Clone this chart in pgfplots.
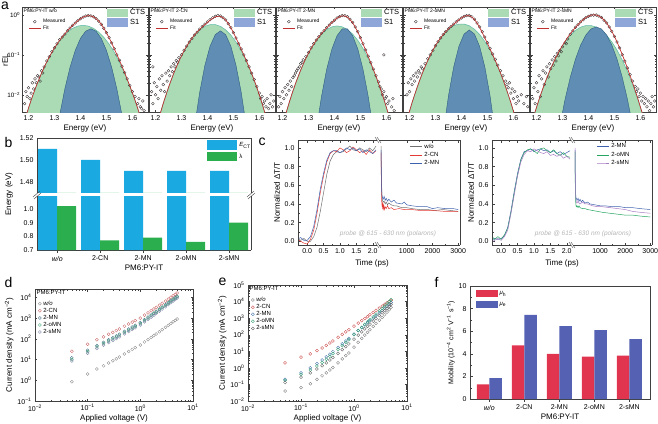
\documentclass[border=0pt]{standalone}
\usepackage{pgfplots}
\pgfplotsset{compat=1.18}
\usepackage{fontspec}
\setmainfont{Liberation Sans}
\definecolor{ctsfill}{HTML}{AADBB4}
\definecolor{ctsedge}{HTML}{5DBBA8}
\definecolor{sfill}{HTML}{5F8DB4}
\definecolor{sedge}{HTML}{2E5C80}
\definecolor{sleg}{HTML}{8FA6D8}
\definecolor{mgray}{HTML}{3C3434}
\definecolor{fitred}{HTML}{C0302E}
\definecolor{ectblue}{HTML}{1BA9E1}
\definecolor{lamgreen}{HTML}{2BAE4E}
\definecolor{cgray}{HTML}{707070}
\definecolor{cred}{HTML}{E53A33}
\definecolor{cblue}{HTML}{3F62AE}
\definecolor{cgreen}{HTML}{25A561}
\definecolor{cpurple}{HTML}{A77BC4}
\definecolor{probe}{HTML}{B5B5B5}
\definecolor{dgray}{HTML}{8A8A8A}
\definecolor{dred}{HTML}{C86464}
\definecolor{dteal}{HTML}{3A6A80}
\definecolor{dgreen}{HTML}{46A87A}
\definecolor{dpurple}{HTML}{8080A8}
\definecolor{egray}{HTML}{7A7A7A}
\definecolor{ered}{HTML}{CC4848}
\definecolor{eblue}{HTML}{4070A8}
\definecolor{egreen}{HTML}{30A070}
\definecolor{edark}{HTML}{5A5A5A}
\definecolor{mured}{HTML}{E0344F}
\definecolor{mublue}{HTML}{5562B4}
\pgfplotsset{
 every axis/.append style={scale only axis, clip mode=individual,
   tick align=inside, axis line style={black!75, line width=0.5pt}, tick style={black!75, line width=0.4pt},
   major tick length=2.5pt, minor tick length=1.5pt,
   tick label style={font=\fontsize{7}{8}\selectfont}, label style={font=\fontsize{8}{9}\selectfont},
   /pgf/number format/assume math mode=true, /pgf/number format/1000 sep={}},
 legpatcha/.style={legend image code/.code={\fill[##1, draw=none] (0pt,-4pt) rectangle (21pt,4.5pt);}},
 legpatchb/.style={legend image code/.code={\fill[##1, draw=none] (0pt,-4.5pt) rectangle (30pt,5pt);}},
 legpatchf/.style={legend image code/.code={\fill[##1, draw=none] (0pt,-3.5pt) rectangle (22pt,3.5pt);}},
 legline/.style={legend image code/.code={\draw[mark repeat=2,mark phase=2,##1] plot coordinates {(0pt,0pt) (6pt,0pt) (12pt,0pt)};}},
 measpts/.style={only marks, mark=o, mark size=1.4pt, draw=mgray, line width=0.35pt},
 fitline/.style={fitred, line width=0.7pt, smooth},
 ctsst/.style={fill=ctsfill, draw=ctsedge, line width=0.5pt, forget plot},
 s1st/.style={fill=sfill, draw=sedge, line width=0.4pt, forget plot},
}
\begin{document}
\begin{tikzpicture}
\useasboundingbox (0,0) rectangle (658pt,-423pt);
% ================= panel a =================
% --- a1 w/o
\begin{axis}[anchor=south west, at={(22pt,-112pt)}, width=126pt, height=105pt, ymode=log, xmin=1.175, xmax=1.66, ymin=0.0037, ymax=1.58,
  xtick={1.2,1.3,1.4,1.5,1.6}, xticklabels={1.2,1.3,1.4,1.5,1.6}, ytick={0.01,0.1,1}, xlabel={Energy (eV)}, xlabel style={yshift=3pt},
  yticklabels={10\textsuperscript{−2},10\textsuperscript{−1},10\textsuperscript{0}}, yticklabel style={xshift=1.5pt, font=\fontsize{6.3}{7}\selectfont},
  legend style={at={(0.995,0.995)}, anchor=north east, draw=none, fill=none, inner sep=0pt, font=\fontsize{7.5}{8}\selectfont, row sep=-1.2pt, legend cell align=left}, legpatcha]
\addplot[ctsst] coordinates {(1.17,0.0001) (1.19,0.00293) (1.21,0.00728) (1.23,0.01656) (1.25,0.03453) (1.27,0.06607) (1.29,0.1159) (1.31,0.1866) (1.33,0.2753) (1.35,0.3727) (1.37,0.4626) (1.39,0.5267) (1.41,0.55) (1.43,0.5267) (1.45,0.4626) (1.47,0.3727) (1.49,0.2753) (1.51,0.1866) (1.53,0.1159) (1.55,0.06607) (1.57,0.03453) (1.59,0.01656) (1.61,0.00728) (1.63,0.00293) (1.65,0.0001)} -- cycle;
\addplot[s1st] coordinates {(1.29,0.0001) (1.30,0.000508) (1.32,0.003074) (1.34,0.0141) (1.36,0.04908) (1.38,0.1294) (1.40,0.2586) (1.42,0.3918) (1.44,0.45) (1.46,0.3918) (1.48,0.2586) (1.50,0.1294) (1.52,0.04908) (1.54,0.0141) (1.56,0.003074) (1.58,0.000508) (1.59,0.0001)} -- cycle;
\addlegendimage{fill=ctsfill}\addlegendentry{CTS}
\addlegendimage{fill=sleg}\addlegendentry{S1}
\end{axis}
\begin{axis}[anchor=south west, at={(22pt,-112pt)}, width=126pt, height=105pt, ymode=log, xmin=1.175, xmax=1.66, ymin=0.0037, ymax=1.58, hide axis,
  legend style={at={(0.05,0.905)}, anchor=north west, draw=none, fill=none, inner sep=0pt, font=\fontsize{5}{5.5}\selectfont, row sep=-2.5pt, legend cell align=left}, legline]
\addplot[measpts] coordinates {(1.185,0.006) (1.19,0.012) (1.195,0.009) (1.20,0.015) (1.205,0.008) (1.21,0.011) (1.215,0.02) (1.22,0.014) (1.225,0.025) (1.23,0.02) (1.235,0.03) (1.24,0.028) (1.245,0.022) (1.25,0.04) (1.255,0.035) (1.26,0.05) (1.27,0.07) (1.28,0.09) (1.29,0.12) (1.30,0.15) (1.31,0.19) (1.32,0.24) (1.33,0.28) (1.34,0.33) (1.35,0.40) (1.36,0.47) (1.37,0.55) (1.38,0.63) (1.39,0.72) (1.40,0.80) (1.41,0.88) (1.42,0.94) (1.43,0.97) (1.44,0.95) (1.45,0.90) (1.46,0.81) (1.47,0.70) (1.48,0.58) (1.49,0.465) (1.50,0.36) (1.51,0.27) (1.52,0.20) (1.53,0.143) (1.54,0.10) (1.55,0.073) (1.56,0.052) (1.57,0.036) (1.58,0.025) (1.59,0.017) (1.60,0.012) (1.61,0.009) (1.62,0.006) (1.625,0.008) (1.63,0.005) (1.635,0.0045) (1.64,0.007) (1.645,0.004)};
\addplot[fitline] coordinates {(1.19,0.0029) (1.21,0.0073) (1.23,0.0166) (1.25,0.0345) (1.27,0.0661) (1.29,0.1159) (1.31,0.1879) (1.33,0.2821) (1.35,0.3999) (1.37,0.5451) (1.39,0.7161) (1.41,0.8795) (1.43,0.9614) (1.45,0.8973) (1.47,0.7022) (1.49,0.4647) (1.51,0.2691) (1.53,0.1431) (1.55,0.0729) (1.57,0.0358) (1.59,0.0166) (1.61,0.0073) (1.63,0.0029)};
\legend{Measured,Fit}
\node[anchor=north west, font=\fontsize{5}{6}\selectfont, inner sep=1.5pt] at (rel axis cs:0,1) {PM6:PY-IT w/o};
\end{axis}
\node[rotate=90, font=\fontsize{8}{9}\selectfont] at (5pt,-60pt) {rEL};
% --- a2 2-CN
\begin{axis}[anchor=south west, at={(149pt,-112pt)}, width=126pt, height=105pt, ymode=log, xmin=1.175, xmax=1.66, ymin=0.0037, ymax=1.58,
  xtick={1.2,1.3,1.4,1.5,1.6}, xticklabels={1.2,1.3,1.4,1.5,1.6}, ytick={0.01,0.1,1}, xlabel={Energy (eV)}, xlabel style={yshift=3pt}, yticklabels={,,},
  legend style={at={(0.995,0.995)}, anchor=north east, draw=none, fill=none, inner sep=0pt, font=\fontsize{7.5}{8}\selectfont, row sep=-1.2pt, legend cell align=left}, legpatcha]
\addplot[ctsst] coordinates {(1.17,0.0001) (1.19,0.00074) (1.21,0.00224) (1.23,0.00614) (1.25,0.0152) (1.27,0.0341) (1.29,0.0690) (1.31,0.1263) (1.33,0.2090) (1.35,0.3128) (1.37,0.4233) (1.39,0.5178) (1.41,0.5727) (1.43,0.5727) (1.45,0.5178) (1.47,0.4233) (1.49,0.3128) (1.51,0.2090) (1.53,0.1263) (1.55,0.0690) (1.57,0.0341) (1.59,0.0152) (1.61,0.00614) (1.63,0.00224) (1.65,0.00074) (1.67,0.0001)} -- cycle;
\addplot[s1st] coordinates {(1.32,0.00001) (1.33,0.00013) (1.35,0.00155) (1.37,0.0114) (1.39,0.0541) (1.41,0.1644) (1.43,0.3203) (1.45,0.40) (1.47,0.3203) (1.49,0.1644) (1.51,0.0541) (1.53,0.0114) (1.55,0.00155) (1.57,0.00013) (1.58,0.00001)} -- cycle;
\addlegendimage{fill=ctsfill}\addlegendentry{CTS}
\addlegendimage{fill=sleg}\addlegendentry{S1}
\end{axis}
\begin{axis}[anchor=south west, at={(149pt,-112pt)}, width=126pt, height=105pt, ymode=log, xmin=1.175, xmax=1.66, ymin=0.0037, ymax=1.58, hide axis,
  legend style={at={(0.05,0.905)}, anchor=north west, draw=none, fill=none, inner sep=0pt, font=\fontsize{5}{5.5}\selectfont, row sep=-2.5pt, legend cell align=left}, legline]
\addplot[measpts] coordinates {(1.185,0.012) (1.19,0.006) (1.19,0.05) (1.195,0.02) (1.20,0.01) (1.205,0.016) (1.21,0.008) (1.215,0.025) (1.22,0.013) (1.225,0.03) (1.23,0.018) (1.235,0.012) (1.24,0.035) (1.245,0.022) (1.25,0.04) (1.255,0.03) (1.26,0.05) (1.265,0.038) (1.27,0.06) (1.275,0.05) (1.28,0.072) (1.285,0.065) (1.29,0.085) (1.30,0.1) (1.31,0.13) (1.32,0.165) (1.33,0.21) (1.34,0.256) (1.35,0.314) (1.36,0.37) (1.37,0.44) (1.38,0.51) (1.39,0.59) (1.40,0.67) (1.41,0.76) (1.42,0.85) (1.43,0.93) (1.44,0.97) (1.45,0.94) (1.46,0.85) (1.47,0.75) (1.48,0.60) (1.49,0.48) (1.50,0.36) (1.51,0.265) (1.52,0.19) (1.53,0.14) (1.54,0.10) (1.55,0.072) (1.56,0.05) (1.57,0.035) (1.58,0.024) (1.59,0.016) (1.60,0.011) (1.605,0.008) (1.61,0.009) (1.615,0.006) (1.62,0.007) (1.625,0.005) (1.63,0.008) (1.635,0.0045) (1.64,0.006) (1.645,0.01) (1.65,0.005) (1.655,0.007)};
\addplot[fitline] coordinates {(1.21,0.0022) (1.23,0.0061) (1.25,0.0152) (1.27,0.0341) (1.29,0.0690) (1.31,0.1263) (1.33,0.2091) (1.35,0.3144) (1.37,0.4347) (1.39,0.5719) (1.41,0.7371) (1.43,0.8930) (1.45,0.9178) (1.47,0.7436) (1.49,0.4772) (1.51,0.2631) (1.53,0.1377) (1.55,0.0706) (1.57,0.0342) (1.59,0.0152) (1.61,0.0061) (1.63,0.0022)};
\legend{Measured,Fit}
\node[anchor=north west, font=\fontsize{5}{6}\selectfont, inner sep=1.5pt] at (rel axis cs:0,1) {PM6:PY-IT 2-CN};
\end{axis}
% --- a3 2-MN
\begin{axis}[anchor=south west, at={(276pt,-112pt)}, width=126pt, height=105pt, ymode=log, xmin=1.175, xmax=1.66, ymin=0.0037, ymax=1.58,
  xtick={1.2,1.3,1.4,1.5,1.6}, xticklabels={1.2,1.3,1.4,1.5,1.6}, ytick={0.01,0.1,1}, xlabel={Energy (eV)}, xlabel style={yshift=3pt}, yticklabels={,,},
  legend style={at={(0.995,0.995)}, anchor=north east, draw=none, fill=none, inner sep=0pt, font=\fontsize{7.5}{8}\selectfont, row sep=-1.2pt, legend cell align=left}, legpatcha]
\addplot[ctsst] coordinates {(1.17,0.0001) (1.19,0.00098) (1.21,0.00291) (1.23,0.00784) (1.25,0.0190) (1.27,0.0414) (1.29,0.0815) (1.31,0.1443) (1.33,0.2305) (1.35,0.3318) (1.37,0.4304) (1.39,0.5031) (1.41,0.53) (1.43,0.5031) (1.45,0.4304) (1.47,0.3318) (1.49,0.2305) (1.51,0.1443) (1.53,0.0815) (1.55,0.0414) (1.57,0.0190) (1.59,0.00784) (1.61,0.00291) (1.63,0.00098) (1.65,0.0001)} -- cycle;
\addplot[s1st] coordinates {(1.30,0.00001) (1.31,0.00012) (1.33,0.00128) (1.35,0.0090) (1.37,0.0430) (1.39,0.1387) (1.41,0.3029) (1.43,0.4476) (1.45,0.4476) (1.47,0.3029) (1.49,0.1387) (1.51,0.0430) (1.53,0.0090) (1.55,0.00128) (1.57,0.00012) (1.58,0.00001)} -- cycle;
\addlegendimage{fill=ctsfill}\addlegendentry{CTS}
\addlegendimage{fill=sleg}\addlegendentry{S1}
\end{axis}
\begin{axis}[anchor=south west, at={(276pt,-112pt)}, width=126pt, height=105pt, ymode=log, xmin=1.175, xmax=1.66, ymin=0.0037, ymax=1.58, hide axis,
  legend style={at={(0.05,0.905)}, anchor=north west, draw=none, fill=none, inner sep=0pt, font=\fontsize{5}{5.5}\selectfont, row sep=-2.5pt, legend cell align=left}, legline]
\addplot[measpts] coordinates {(1.185,0.005) (1.19,0.009) (1.195,0.006) (1.20,0.012) (1.205,0.008) (1.21,0.015) (1.215,0.01) (1.22,0.018) (1.225,0.013) (1.23,0.022) (1.235,0.016) (1.24,0.027) (1.245,0.03) (1.25,0.035) (1.255,0.04) (1.26,0.045) (1.265,0.05) (1.27,0.06) (1.275,0.065) (1.28,0.075) (1.29,0.09) (1.30,0.115) (1.31,0.15) (1.32,0.19) (1.33,0.235) (1.34,0.285) (1.35,0.345) (1.36,0.405) (1.37,0.48) (1.38,0.56) (1.39,0.65) (1.40,0.74) (1.41,0.84) (1.42,0.91) (1.43,0.97) (1.44,0.96) (1.45,0.90) (1.46,0.78) (1.47,0.65) (1.48,0.50) (1.49,0.38) (1.50,0.27) (1.51,0.19) (1.52,0.133) (1.53,0.092) (1.54,0.064) (1.55,0.044) (1.56,0.03) (1.57,0.021) (1.575,0.016) (1.58,0.014) (1.585,0.01) (1.59,0.012) (1.595,0.008) (1.60,0.009) (1.605,0.006) (1.61,0.007) (1.62,0.005) (1.625,0.008) (1.63,0.004) (1.59,0.1)};
\addplot[fitline] coordinates {(1.21,0.0029) (1.23,0.0078) (1.25,0.0190) (1.27,0.0414) (1.29,0.0815) (1.31,0.1444) (1.33,0.2318) (1.35,0.3408) (1.37,0.4734) (1.39,0.6418) (1.41,0.8329) (1.43,0.9507) (1.45,0.8780) (1.47,0.6347) (1.49,0.3692) (1.51,0.1873) (1.53,0.0905) (1.55,0.0427) (1.57,0.0191) (1.59,0.0078) (1.61,0.0029)};
\legend{Measured,Fit}
\node[anchor=north west, font=\fontsize{5}{6}\selectfont, inner sep=1.5pt] at (rel axis cs:0,1) {PM6:PY-IT 2-MN};
\end{axis}
% --- a4 2-oMN
\begin{axis}[anchor=south west, at={(403pt,-112pt)}, width=126pt, height=105pt, ymode=log, xmin=1.175, xmax=1.66, ymin=0.0037, ymax=1.58,
  xtick={1.2,1.3,1.4,1.5,1.6}, xticklabels={1.2,1.3,1.4,1.5,1.6}, ytick={0.01,0.1,1}, xlabel={Energy (eV)}, xlabel style={yshift=3pt}, yticklabels={,,},
  legend style={at={(0.995,0.995)}, anchor=north east, draw=none, fill=none, inner sep=0pt, font=\fontsize{7.5}{8}\selectfont, row sep=-1.2pt, legend cell align=left}, legpatcha]
\addplot[ctsst] coordinates {(1.15,0.0001) (1.17,0.00077) (1.19,0.00232) (1.21,0.00635) (1.23,0.01574) (1.25,0.0353) (1.27,0.0714) (1.29,0.1307) (1.31,0.2162) (1.33,0.3236) (1.35,0.4379) (1.37,0.5357) (1.39,0.5925) (1.41,0.5925) (1.43,0.5357) (1.45,0.4379) (1.47,0.3236) (1.49,0.2162) (1.51,0.1307) (1.53,0.0714) (1.55,0.0353) (1.57,0.0157) (1.59,0.00635) (1.61,0.00232) (1.63,0.00077) (1.65,0.0001)} -- cycle;
\addplot[s1st] coordinates {(1.30,0.00001) (1.31,0.00008) (1.33,0.0011) (1.35,0.0094) (1.37,0.0494) (1.39,0.1622) (1.41,0.3311) (1.43,0.42) (1.45,0.3311) (1.47,0.1622) (1.49,0.0494) (1.51,0.0094) (1.53,0.0011) (1.55,0.00008) (1.56,0.00001)} -- cycle;
\addlegendimage{fill=ctsfill}\addlegendentry{CTS}
\addlegendimage{fill=sleg}\addlegendentry{S1}
\end{axis}
\begin{axis}[anchor=south west, at={(403pt,-112pt)}, width=126pt, height=105pt, ymode=log, xmin=1.175, xmax=1.66, ymin=0.0037, ymax=1.58, hide axis,
  legend style={at={(0.05,0.905)}, anchor=north west, draw=none, fill=none, inner sep=0pt, font=\fontsize{5}{5.5}\selectfont, row sep=-2.5pt, legend cell align=left}, legline]
\addplot[measpts] coordinates {(1.19,0.01) (1.195,0.02) (1.20,0.012) (1.205,0.025) (1.21,0.018) (1.215,0.03) (1.22,0.022) (1.225,0.035) (1.23,0.028) (1.235,0.04) (1.24,0.035) (1.245,0.05) (1.25,0.045) (1.26,0.06) (1.27,0.08) (1.28,0.1) (1.29,0.13) (1.30,0.17) (1.31,0.215) (1.32,0.265) (1.33,0.325) (1.34,0.385) (1.35,0.45) (1.36,0.515) (1.37,0.59) (1.38,0.67) (1.39,0.755) (1.40,0.84) (1.41,0.92) (1.42,0.96) (1.43,0.97) (1.44,0.90) (1.45,0.78) (1.46,0.63) (1.47,0.50) (1.48,0.38) (1.49,0.28) (1.50,0.20) (1.51,0.145) (1.52,0.105) (1.53,0.077) (1.54,0.055) (1.55,0.04) (1.56,0.03) (1.57,0.022) (1.575,0.018) (1.58,0.015) (1.585,0.02) (1.59,0.011) (1.595,0.014) (1.60,0.008) (1.605,0.012) (1.61,0.006) (1.615,0.009) (1.62,0.007) (1.63,0.01) (1.64,0.006) (1.65,0.009) (1.655,0.005)};
\addplot[fitline] coordinates {(1.19,0.0023) (1.21,0.0064) (1.23,0.0157) (1.25,0.0353) (1.27,0.0714) (1.29,0.1307) (1.31,0.2163) (1.33,0.3247) (1.35,0.4473) (1.37,0.5851) (1.39,0.7547) (1.41,0.9236) (1.43,0.9557) (1.45,0.7690) (1.47,0.4858) (1.49,0.2656) (1.51,0.1401) (1.53,0.0725) (1.55,0.0354) (1.57,0.0157) (1.59,0.0064) (1.61,0.0023)};
\legend{Measured,Fit}
\node[anchor=north west, font=\fontsize{5}{6}\selectfont, inner sep=1.5pt] at (rel axis cs:0,1) {PM6:PY-IT 2-oMN};
\end{axis}
% --- a5 2-sMN
\begin{axis}[anchor=south west, at={(530pt,-112pt)}, width=126pt, height=105pt, ymode=log, xmin=1.175, xmax=1.66, ymin=0.0037, ymax=1.58,
  xtick={1.2,1.3,1.4,1.5,1.6}, xticklabels={1.2,1.3,1.4,1.5,1.6}, ytick={0.01,0.1,1}, xlabel={Energy (eV)}, xlabel style={yshift=3pt}, yticklabels={,,},
  legend style={at={(0.995,0.995)}, anchor=north east, draw=none, fill=none, inner sep=0pt, font=\fontsize{7.5}{8}\selectfont, row sep=-1.2pt, legend cell align=left}, legpatcha]
\addplot[ctsst] coordinates {(1.15,0.0001) (1.17,0.00105) (1.19,0.00298) (1.21,0.00767) (1.23,0.0180) (1.25,0.0384) (1.27,0.0744) (1.29,0.1314) (1.31,0.2109) (1.33,0.3080) (1.35,0.4091) (1.37,0.4945) (1.39,0.5435) (1.41,0.5435) (1.43,0.4945) (1.45,0.4091) (1.47,0.3080) (1.49,0.2109) (1.51,0.1314) (1.53,0.0744) (1.55,0.0384) (1.57,0.0180) (1.59,0.00767) (1.61,0.00298) (1.63,0.00105) (1.65,0.0001)} -- cycle;
\addplot[s1st] coordinates {(1.26,0.00003) (1.27,0.0003) (1.29,0.0017) (1.31,0.0077) (1.33,0.0274) (1.35,0.0780) (1.37,0.1758) (1.39,0.3143) (1.41,0.4452) (1.43,0.5) (1.45,0.4452) (1.47,0.3143) (1.49,0.1758) (1.51,0.0780) (1.53,0.0274) (1.55,0.0077) (1.57,0.0017) (1.59,0.0003) (1.60,0.00003)} -- cycle;
\addlegendimage{fill=ctsfill}\addlegendentry{CTS}
\addlegendimage{fill=sleg}\addlegendentry{S1}
\end{axis}
\begin{axis}[anchor=south west, at={(530pt,-112pt)}, width=126pt, height=105pt, ymode=log, xmin=1.175, xmax=1.66, ymin=0.0037, ymax=1.58, hide axis,
  legend style={at={(0.05,0.905)}, anchor=north west, draw=none, fill=none, inner sep=0pt, font=\fontsize{5}{5.5}\selectfont, row sep=-2.5pt, legend cell align=left}, legline]
\addplot[measpts] coordinates {(1.185,0.008) (1.19,0.015) (1.195,0.006) (1.20,0.02) (1.205,0.012) (1.21,0.03) (1.215,0.009) (1.22,0.025) (1.225,0.04) (1.23,0.018) (1.235,0.035) (1.24,0.05) (1.245,0.028) (1.25,0.06) (1.255,0.045) (1.26,0.075) (1.265,0.055) (1.27,0.09) (1.275,0.07) (1.28,0.11) (1.285,0.095) (1.29,0.13) (1.295,0.12) (1.30,0.16) (1.31,0.2) (1.315,0.19) (1.32,0.25) (1.33,0.33) (1.34,0.40) (1.35,0.49) (1.36,0.57) (1.37,0.67) (1.38,0.76) (1.39,0.86) (1.40,0.92) (1.41,0.98) (1.42,0.99) (1.43,0.99) (1.44,0.93) (1.45,0.86) (1.46,0.73) (1.47,0.63) (1.48,0.50) (1.49,0.39) (1.50,0.29) (1.51,0.21) (1.52,0.15) (1.53,0.10) (1.54,0.07) (1.55,0.047) (1.56,0.032) (1.57,0.022) (1.58,0.016) (1.585,0.012) (1.59,0.014) (1.595,0.009) (1.60,0.011) (1.605,0.007) (1.61,0.009) (1.615,0.006) (1.62,0.008) (1.625,0.005) (1.63,0.007) (1.635,0.004) (1.64,0.006) (1.645,0.009) (1.65,0.005) (1.655,0.007)};
\addplot[fitline] coordinates {(1.19,0.0030) (1.21,0.0077) (1.23,0.0180) (1.25,0.0384) (1.27,0.0747) (1.29,0.1331) (1.31,0.2186) (1.33,0.3354) (1.35,0.4871) (1.37,0.6703) (1.39,0.8578) (1.41,0.9887) (1.43,0.9945) (1.45,0.8543) (1.47,0.6223) (1.49,0.3867) (1.51,0.2094) (1.53,0.1018) (1.55,0.0461) (1.57,0.0197) (1.59,0.0080) (1.61,0.0030)};
\legend{Measured,Fit}
\node[anchor=north west, font=\fontsize{5}{6}\selectfont, inner sep=1.5pt] at (rel axis cs:0,1) {PM6:PY-IT 2-sMN};
\end{axis}
% ================= panel b =================
\begin{axis}[anchor=south west, at={(37pt,-193pt)}, width=214pt, height=55pt, ybar=0pt, bar width=19pt,
  xmin=-0.47, xmax=4.51, ymin=1.47, ymax=1.52, ytick={1.48,1.50,1.52},
  yticklabel style={/pgf/number format/.cd, fixed, fixed zerofill, precision=2},
  xtick=\empty, axis x line*=top, axis y line*=box, ytick pos=left, minor y tick num=1,
  legend style={at={(0.795,0.96)}, anchor=north west, draw=none, fill=none, inner sep=0pt, font=\fontsize{6}{7}\selectfont, row sep=1.5pt, legend cell align=left}, legpatchb]
\addplot[fill=ectblue, draw=none] coordinates {(0,1.51) (1,1.50) (2,1.49) (3,1.49) (4,1.49)};
\addplot[fill=lamgreen, draw=none] coordinates {(0,1.02) (1,0.77) (2,0.79) (3,0.76) (4,0.90)};
\legend{\textit{E}\textsubscript{CT},λ}
\end{axis}
\begin{axis}[anchor=south west, at={(37pt,-250pt)}, width=214pt, height=54pt, ybar=0pt, bar width=19pt,
  xmin=-0.47, xmax=4.51, ymin=0.7, ymax=1.094, ytick={0.7,0.8,0.9,1.0},
  yticklabel style={/pgf/number format/.cd, fixed, fixed zerofill, precision=1},
  xtick={0,1,2,3,4}, xticklabels={\textit{w/o},2-CN,2-MN,2-oMN,2-sMN},
  axis x line*=bottom, axis y line*=box, ytick pos=left, minor y tick num=1,
  xlabel={PM6:PY-IT}, xlabel style={yshift=3pt}]
\addplot[fill=ectblue, draw=none] coordinates {(0,1.51) (1,1.50) (2,1.49) (3,1.49) (4,1.49)};
\addplot[fill=lamgreen, draw=none] coordinates {(0,1.02) (1,0.77) (2,0.79) (3,0.76) (4,0.90)};
\end{axis}
\node[rotate=90, font=\fontsize{8}{9}\selectfont] at (9pt,-194pt) {Energy (eV)};
\draw[black!75, line width=0.4pt] (33pt,-197pt) -- (40pt,-191pt) (34pt,-199pt) -- (41pt,-193pt);
\draw[black!75, line width=0.4pt] (247pt,-197pt) -- (254pt,-191pt) (248pt,-199pt) -- (255pt,-193pt);
% ================= panel c =================
\begin{axis}[anchor=south west, at={(298pt,-245pt)}, width=79pt, height=105pt, xmin=-0.28, xmax=2.13, ymin=-0.04, ymax=1.085,
  xtick={0,0.5,1,1.5,2}, xticklabels={0.0,0.5,1.0,1.5,2.0}, ytick={0,0.2,0.4,0.6,0.8,1.0},
  yticklabel style={/pgf/number format/.cd, fixed, fixed zerofill, precision=1},
  axis y line*=left, axis x line*=box, minor x tick num=1, minor y tick num=1,
  ylabel={Normalized ΔT/T}, ylabel style={yshift=-2pt}]
\addplot[cgray, line width=0.5pt] coordinates {(-0.25,0.02) (-0.2,0.01) (-0.1,0.03) (0.0,0.0) (0.1,0.0) (0.2,0.05) (0.3,0.15) (0.4,0.32) (0.5,0.52) (0.6,0.72) (0.7,0.86) (0.8,0.93) (0.9,0.96) (1.0,0.95) (1.1,0.96) (1.2,0.99) (1.3,1.02) (1.4,0.98) (1.5,0.97) (1.6,1.0) (1.7,0.98) (1.8,0.96) (1.9,1.0) (2.0,0.97) (2.1,1.02)};
\addplot[cred, line width=0.5pt] coordinates {(-0.25,0.01) (-0.2,0.0) (-0.1,-0.02) (0.0,-0.03) (0.1,0.02) (0.2,0.12) (0.3,0.3) (0.4,0.52) (0.5,0.7) (0.6,0.85) (0.7,0.94) (0.8,0.97) (0.9,0.96) (1.0,1.0) (1.1,0.98) (1.2,0.95) (1.3,0.97) (1.4,1.01) (1.5,0.98) (1.6,0.95) (1.7,0.97) (1.8,0.93) (1.9,0.98) (2.0,0.94) (2.1,0.97)};
\addplot[cblue, line width=0.5pt] coordinates {(-0.25,0.03) (-0.2,0.04) (-0.1,0.01) (0.0,0.01) (0.1,0.05) (0.2,0.16) (0.3,0.34) (0.4,0.56) (0.5,0.73) (0.6,0.87) (0.7,0.95) (0.8,0.97) (0.9,0.97) (1.0,0.95) (1.1,0.97) (1.2,1.0) (1.3,0.98) (1.4,1.0) (1.5,0.97) (1.6,0.99) (1.7,0.95) (1.8,0.98) (1.9,0.96) (2.0,0.94) (2.1,0.98)};
\end{axis}
\begin{axis}[anchor=south west, at={(379pt,-245pt)}, width=81pt, height=105pt, xmin=-80, xmax=3070, ymin=-0.04, ymax=1.085,
  xtick={1000,2000,3000}, scaled x ticks=false, ytick=\empty, axis y line*=right, axis x line*=box, minor x tick num=1,
  legend style={at={(0.38,0.985)}, anchor=north west, draw=none, fill=none, inner sep=0pt, font=\fontsize{6}{7}\selectfont, row sep=-1.5pt, legend cell align=left}, legline]
\addplot[cgray, line width=0.5pt] coordinates {(0,1.02) (10,0.8) (20,0.62) (35,0.5) (50,0.44) (80,0.42) (120,0.43) (160,0.40) (200,0.42) (250,0.39) (300,0.41) (400,0.39) (500,0.38) (600,0.38) (800,0.36) (1000,0.36) (1200,0.35) (1500,0.34) (1800,0.34) (2100,0.33) (2400,0.34) (2700,0.33) (3000,0.32)};
\addplot[cred, line width=0.5pt] coordinates {(0,0.95) (10,0.62) (20,0.45) (35,0.39) (50,0.36) (70,0.42) (90,0.35) (110,0.38) (130,0.34) (160,0.37) (200,0.35) (250,0.38) (300,0.35) (400,0.36) (500,0.34) (700,0.35) (900,0.34) (1200,0.34) (1500,0.33) (2000,0.33) (2500,0.32) (3000,0.32)};
\addplot[cblue, line width=0.5pt] coordinates {(0,0.98) (10,0.72) (20,0.56) (35,0.49) (50,0.47) (80,0.45) (120,0.48) (160,0.44) (200,0.46) (250,0.43) (300,0.45) (400,0.42) (500,0.44) (600,0.41) (800,0.40) (900,0.42) (1000,0.39) (1200,0.38) (1500,0.37) (1800,0.37) (2000,0.35) (2200,0.36) (2500,0.35) (2800,0.35) (3000,0.34)};
\legend{w/o,2-CN,2-MN}
\end{axis}
\node[font=\itshape\fontsize{6.5}{7}\selectfont, text=probe] at (388pt,-234pt) {probe @ 615 - 630 nm (polarons)};
\node[font=\fontsize{8}{9}\selectfont] at (372pt,-263pt) {Time (ps)};
\begin{axis}[anchor=south west, at={(492pt,-245pt)}, width=79pt, height=105pt, xmin=-0.28, xmax=2.13, ymin=-0.04, ymax=1.085,
  xtick={0,0.5,1,1.5,2}, xticklabels={0.0,0.5,1.0,1.5,2.0}, ytick={0,0.2,0.4,0.6,0.8,1.0},
  yticklabel style={/pgf/number format/.cd, fixed, fixed zerofill, precision=1},
  axis y line*=left, axis x line*=box, minor x tick num=1, minor y tick num=1,
  ylabel={Normalized ΔT/T}, ylabel style={yshift=-2pt}]
\addplot[cblue, line width=0.5pt] coordinates {(-0.25,0.02) (-0.2,0.03) (-0.1,0.02) (0.0,0.03) (0.1,0.06) (0.2,0.15) (0.3,0.33) (0.4,0.54) (0.5,0.73) (0.6,0.88) (0.7,0.96) (0.8,0.97) (0.9,0.99) (1.0,0.96) (1.1,0.98) (1.2,0.99) (1.3,0.97) (1.4,0.98) (1.5,0.95) (1.6,0.97) (1.7,0.94) (1.8,0.96) (1.9,0.93) (2.0,0.95) (2.1,0.97)};
\addplot[cgreen, line width=0.5pt] coordinates {(-0.25,0.04) (-0.2,0.02) (-0.1,0.05) (0.0,0.02) (0.1,0.07) (0.2,0.14) (0.3,0.31) (0.4,0.52) (0.5,0.71) (0.6,0.87) (0.7,0.95) (0.8,0.98) (0.9,0.99) (1.0,0.97) (1.1,0.94) (1.2,0.99) (1.3,1.0) (1.4,0.97) (1.5,0.95) (1.6,0.98) (1.7,0.94) (1.8,0.92) (1.9,0.95) (2.0,0.91) (2.1,0.90)};
\addplot[cpurple, line width=0.5pt] coordinates {(-0.25,0.0) (-0.2,0.01) (-0.1,0.03) (0.0,0.01) (0.1,0.05) (0.2,0.12) (0.3,0.3) (0.4,0.5) (0.5,0.7) (0.6,0.85) (0.7,0.93) (0.8,0.97) (0.9,0.96) (1.0,0.99) (1.1,0.97) (1.2,0.95) (1.3,0.94) (1.4,0.96) (1.5,0.92) (1.6,0.93) (1.7,0.91) (1.8,0.93) (1.9,0.89) (2.0,0.91) (2.1,0.88)};
\end{axis}
\begin{axis}[anchor=south west, at={(573pt,-245pt)}, width=79pt, height=105pt, xmin=-80, xmax=3070, ymin=-0.04, ymax=1.085,
  xtick={1000,2000,3000}, scaled x ticks=false, ytick=\empty, axis y line*=right, axis x line*=box, minor x tick num=1,
  legend style={at={(0.30,0.985)}, anchor=north west, draw=none, fill=none, inner sep=0pt, font=\fontsize{6}{7}\selectfont, row sep=-1.5pt, legend cell align=left}, legline]
\addplot[cblue, line width=0.5pt] coordinates {(0,0.98) (10,0.7) (20,0.54) (35,0.47) (50,0.46) (80,0.44) (120,0.46) (160,0.43) (200,0.45) (250,0.42) (300,0.44) (400,0.41) (500,0.42) (600,0.40) (800,0.39) (1000,0.38) (1200,0.38) (1500,0.37) (1800,0.37) (2000,0.36) (2300,0.36) (2600,0.35) (3000,0.34)};
\addplot[cgreen, line width=0.5pt] coordinates {(0,0.96) (10,0.6) (20,0.45) (35,0.39) (50,0.37) (80,0.38) (120,0.36) (160,0.38) (200,0.36) (300,0.35) (400,0.35) (500,0.34) (700,0.33) (900,0.32) (1100,0.31) (1400,0.30) (1700,0.29) (2000,0.28) (2300,0.28) (2600,0.27) (3000,0.26)};
\addplot[cpurple, line width=0.5pt] coordinates {(0,1.0) (10,0.72) (20,0.52) (35,0.45) (50,0.42) (80,0.41) (120,0.43) (160,0.41) (200,0.40) (300,0.42) (400,0.40) (500,0.40) (700,0.38) (900,0.37) (1100,0.37) (1400,0.36) (1700,0.35) (2000,0.34) (2300,0.32) (2600,0.31) (3000,0.30)};
\legend{2-MN,2-oMN,2-sMN}
\end{axis}
\node[font=\itshape\fontsize{6.5}{7}\selectfont, text=probe] at (583pt,-234pt) {probe @ 615 - 630 nm (polarons)};
\node[font=\fontsize{8}{9}\selectfont] at (562pt,-263pt) {Time (ps)};
\foreach \bx in {378,572}{
 \draw[black!75, line width=0.4pt] (\bx pt-3pt,-137pt) -- (\bx pt+1pt,-143pt) (\bx pt-1pt,-137pt) -- (\bx pt+3pt,-143pt);
 \draw[black!75, line width=0.4pt] (\bx pt-3pt,-242pt) -- (\bx pt+1pt,-248pt) (\bx pt-1pt,-242pt) -- (\bx pt+3pt,-248pt);
}
% ================= panel d =================
\begin{axis}[anchor=south west, at={(35pt,-401pt)}, width=158pt, height=112pt, xmode=log, ymode=log, xmin=0.01, xmax=10, ymin=0.1, ymax=25119,
  xtick={0.01,0.1,1,10}, xticklabels={10\textsuperscript{−2},10\textsuperscript{−1},10\textsuperscript{0},10\textsuperscript{1}},
  ytick={0.1,1,10,100,1000,10000}, yticklabels={10\textsuperscript{−1},10\textsuperscript{0},10\textsuperscript{1},10\textsuperscript{2},10\textsuperscript{3},10\textsuperscript{4}},
  xlabel={Applied voltage (V)}, ylabel={Current density (mA cm\textsuperscript{−2})}, xlabel style={yshift=3pt}, ylabel style={yshift=-3pt},
  legend style={at={(0.02,0.915)}, anchor=north west, draw=none, fill=none, inner sep=0pt, font=\fontsize{6}{7}\selectfont, row sep=-2.6pt, legend cell align=left},
  every axis plot/.append style={only marks, mark=o, mark size=1.5pt, line width=0.35pt}]
\addplot[dgray] coordinates {(0.05,0.85) (0.1,2.0) (0.15,3.5) (0.2,5.0) (0.25,6.8) (0.3,8.7) (0.35,10.8) (0.4,13.2) (0.5,18.5) (0.6,24.4) (0.7,30.7) (0.8,37.1) (1.0,50) (1.2,70) (1.4,92) (1.6,116) (1.8,142) (2.0,171) (2.3,220) (2.6,275) (3.0,355) (3.4,445) (3.8,550) (4.2,660) (4.6,780) (5.0,900)};
\addplot[dred] coordinates {(0.05,25) (0.1,55) (0.15,90) (0.2,124) (0.25,164) (0.3,204) (0.35,249) (0.4,299) (0.5,403) (0.6,518) (0.7,638) (0.8,757) (1.0,995) (1.2,1370) (1.4,1790) (1.6,2240) (1.8,2730) (2.0,3280) (2.3,4180) (2.6,5170) (3.0,6560) (3.4,8150) (3.8,9940) (4.2,11830) (4.6,13820) (5.0,16000)};
\addplot[dteal] coordinates {(0.05,12) (0.1,28) (0.15,47) (0.2,67) (0.25,89) (0.3,112) (0.35,137) (0.4,166) (0.5,228) (0.6,296) (0.7,370) (0.8,444) (1.0,600) (1.2,840) (1.4,1110) (1.6,1410) (1.8,1740) (2.0,2110) (2.3,2720) (2.6,3410) (3.0,4400) (3.4,5540) (3.8,6840) (4.2,8230) (4.6,9720) (5.0,11300)};
\addplot[dgreen] coordinates {(0.05,10) (0.1,24) (0.15,41) (0.2,58) (0.25,78) (0.3,98) (0.35,121) (0.4,146) (0.5,201) (0.6,262) (0.7,328) (0.8,395) (1.0,535) (1.2,755) (1.4,1000) (1.6,1275) (1.8,1580) (2.0,1920) (2.3,2480) (2.6,3120) (3.0,4030) (3.4,5090) (3.8,6300) (4.2,7600) (4.6,9000) (5.0,10500)};
\addplot[dpurple] coordinates {(0.05,8.5) (0.1,20) (0.15,34) (0.2,49) (0.25,66) (0.3,83) (0.35,103) (0.4,125) (0.5,172) (0.6,225) (0.7,282) (0.8,340) (1.0,460) (1.2,650) (1.4,865) (1.6,1100) (1.8,1365) (2.0,1660) (2.3,2150) (2.6,2710) (3.0,3500) (3.4,4430) (3.8,5480) (4.2,6620) (4.6,7840) (5.0,9200)};
\legend{\textit{w/o},2-CN,2-MN,2-oMN,2-sMN}
\node[anchor=north west, font=\fontsize{6}{7}\selectfont, inner sep=1.5pt] at (rel axis cs:0,1) {PM6:PY-IT};
\end{axis}
% ================= panel e =================
\begin{axis}[anchor=south west, at={(248pt,-401pt)}, width=159pt, height=116pt, xmode=log, ymode=log, xmin=0.01, xmax=10, ymin=0.01, ymax=100000,
  xtick={0.01,0.1,1,10}, xticklabels={10\textsuperscript{−2},10\textsuperscript{−1},10\textsuperscript{0},10\textsuperscript{1}},
  ytick={0.01,0.1,1,10,100,1000,10000,100000}, yticklabels={10\textsuperscript{−2},10\textsuperscript{−1},10\textsuperscript{0},10\textsuperscript{1},10\textsuperscript{2},10\textsuperscript{3},10\textsuperscript{4},10\textsuperscript{5}},
  xlabel={Applied voltage (V)}, ylabel={Current density (mA cm\textsuperscript{−2})}, xlabel style={yshift=3pt}, ylabel style={yshift=-3pt},
  legend style={at={(0.02,0.915)}, anchor=north west, draw=none, fill=none, inner sep=0pt, font=\fontsize{6}{7}\selectfont, row sep=-2.6pt, legend cell align=left},
  every axis plot/.append style={only marks, mark=o, mark size=1.5pt, line width=0.35pt}]
\addplot[egray] coordinates {(0.05,0.04) (0.1,0.065) (0.15,0.11) (0.2,0.2) (0.25,0.33) (0.3,0.5) (0.35,0.75) (0.4,1.05) (0.5,2.0) (0.6,3.5) (0.7,5.5) (0.8,8) (1.0,18) (1.2,35) (1.4,60) (1.6,95) (1.8,140) (2.0,200) (2.3,320) (2.6,480) (3.0,750) (3.4,1100) (3.8,1600) (4.2,2300) (4.6,3200) (5.0,4500)};
\addplot[ered] coordinates {(0.05,2) (0.1,4.5) (0.15,7) (0.2,11) (0.25,16) (0.3,23) (0.35,32) (0.4,42) (0.5,70) (0.6,105) (0.7,150) (0.8,200) (1.0,330) (1.2,500) (1.4,700) (1.6,950) (1.8,1250) (2.0,1600) (2.3,2200) (2.6,2900) (3.0,4000) (3.4,5300) (3.8,6800) (4.2,8400) (4.6,10200) (5.0,12000)};
\addplot[eblue] coordinates {(0.05,0.2) (0.1,0.5) (0.15,1.0) (0.2,1.8) (0.25,3) (0.3,4.6) (0.35,6.7) (0.4,9.5) (0.5,17) (0.6,28) (0.7,42) (0.8,60) (1.0,110) (1.2,180) (1.4,270) (1.6,390) (1.8,530) (2.0,700) (2.3,1000) (2.6,1400) (3.0,2100) (3.4,2900) (3.8,4000) (4.2,5300) (4.6,6900) (5.0,8800)};
\addplot[egreen] coordinates {(0.05,0.18) (0.1,0.4) (0.15,0.75) (0.2,1.3) (0.25,2.1) (0.3,3.3) (0.35,5) (0.4,7.2) (0.5,13) (0.6,22) (0.7,34) (0.8,50) (1.0,100) (1.2,175) (1.4,280) (1.6,420) (1.8,600) (2.0,820) (2.3,1200) (2.6,1750) (3.0,2700) (3.4,3900) (3.8,5400) (4.2,7300) (4.6,9800) (5.0,13000)};
\addplot[edark] coordinates {(0.05,0.13) (0.1,0.28) (0.15,0.5) (0.2,0.85) (0.25,1.35) (0.3,2.0) (0.35,3.0) (0.4,4.2) (0.5,7.5) (0.6,12.5) (0.7,19) (0.8,28) (1.0,55) (1.2,95) (1.4,150) (1.6,225) (1.8,320) (2.0,440) (2.3,660) (2.6,950) (3.0,1450) (3.4,2100) (3.8,2900) (4.2,3900) (4.6,5200) (5.0,6800)};
\legend{\textit{w/o},2-CN,2-MN,2-oMN,2-sMN}
\node[anchor=north west, font=\fontsize{6}{7}\selectfont, inner sep=1.5pt] at (rel axis cs:0,1) {PM6:PY-IT};
\end{axis}
% ================= panel f =================
\begin{axis}[anchor=south west, at={(470pt,-399pt)}, width=180pt, height=113pt, ybar=0pt, bar width=12.5pt,
  xmin=-0.55, xmax=4.59, ymin=0, ymax=10, ytick={0,2,4,6,8,10}, minor y tick num=1,
  xtick={0,1,2,3,4}, xticklabels={\textit{w/o},2-CN,2-MN,2-oMN,2-sMN}, ytick pos=left, xtick pos=bottom,
  xlabel={PM6:PY-IT}, xlabel style={yshift=3pt},
  ylabel={Mobility (10\textsuperscript{−4} cm\textsuperscript{2} V\textsuperscript{−1} s\textsuperscript{−1})}, ylabel style={yshift=-3pt, font=\fontsize{7}{8}\selectfont},
  legend style={at={(0.03,0.97)}, anchor=north west, draw=none, fill=none, inner sep=0pt, font=\fontsize{6}{7}\selectfont, row sep=2pt, legend cell align=left}, legpatchf]
\addplot[fill=mured, draw=none] coordinates {(0,1.3) (1,4.75) (2,4.0) (3,3.75) (4,3.85)};
\addplot[fill=mublue, draw=none] coordinates {(0,1.85) (1,7.45) (2,6.45) (3,6.1) (4,5.3)};
\legend{\textit{μ}\textsubscript{h},\textit{μ}\textsubscript{e}}
\end{axis}
% ================= panel letters =================
\node[font=\fontsize{14}{14}\selectfont, anchor=west, inner sep=1pt] at (0pt,-6pt) {a};
\node[font=\fontsize{14}{14}\selectfont, anchor=west] at (1pt,-142pt) {b};
\node[font=\fontsize{14}{14}\selectfont, anchor=west] at (255pt,-142pt) {c};
\node[font=\fontsize{14}{14}\selectfont, anchor=west] at (1pt,-282pt) {d};
\node[font=\fontsize{14}{14}\selectfont, anchor=west] at (215pt,-282pt) {e};
\node[font=\fontsize{14}{14}\selectfont, anchor=west] at (431pt,-282pt) {f};
\end{tikzpicture}
\end{document}
